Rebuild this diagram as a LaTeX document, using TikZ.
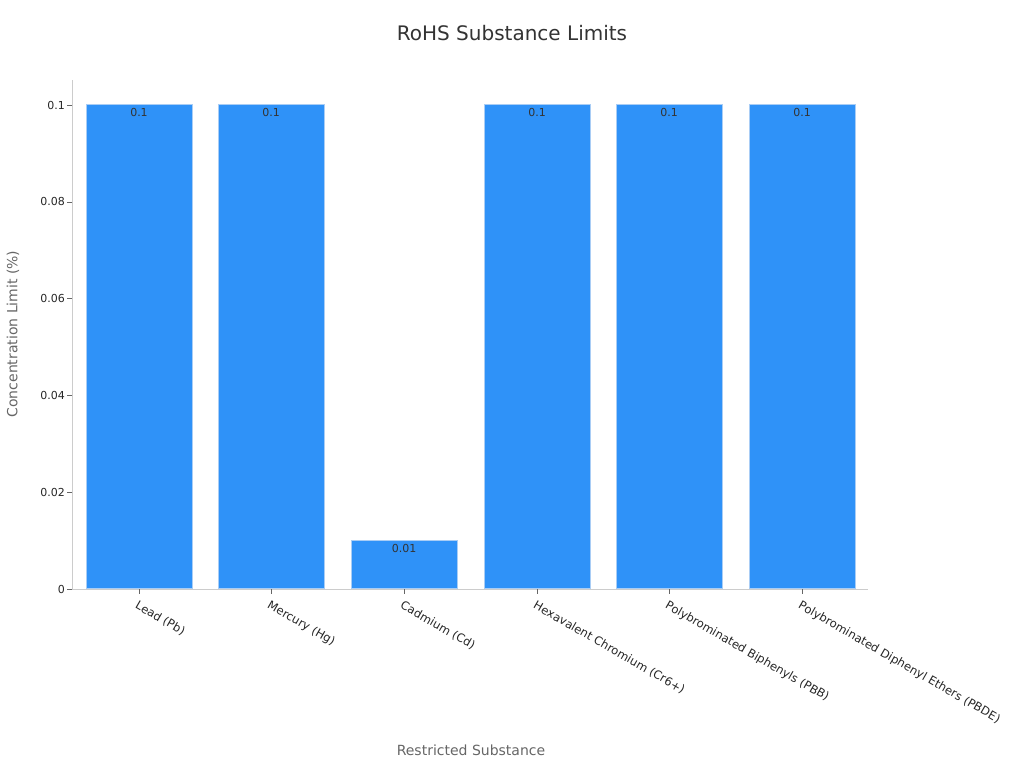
\documentclass[tikz,border=0pt]{standalone}
\usepackage{fontspec}
\setmainfont{DejaVu Sans}
\usepackage{tikz}
\usetikzlibrary{positioning}
\definecolor{barblue}{HTML}{2F92F8}
\definecolor{baredge}{HTML}{A9CDF5}
\definecolor{axisgray}{HTML}{CCCCCC}
\definecolor{textgray}{HTML}{333333}
\definecolor{labelgray}{HTML}{666666}
\tikzset{
  bar/.style={fill=barblue, draw=baredge, line width=0.8pt, anchor=south, inner sep=0pt, minimum width=106pt},
  valuelabel/.style={font=\fontsize{11}{13}\selectfont, text=textgray, anchor=north, inner sep=4pt},
  ticklabel/.style={font=\fontsize{11}{13}\selectfont, text=black!85, anchor=east, inner sep=2pt},
  catlabel/.style={font=\fontsize{11.6}{13}\selectfont, text=black!85, anchor=north west, rotate=-30, inner sep=0pt},
}
\begin{document}
\begin{tikzpicture}[x=1pt, y=-1pt]
  \useasboundingbox (0,0) rectangle (1024,768);

  % axes
  \coordinate (origin) at (72,589);
  \coordinate (ytop) at (72,80);
  \coordinate (xend) at (868,589);
  \draw[axisgray] (ytop) -- (origin) -- (xend);

  % y ticks
  \foreach \py/\l [count=\k] in {589/0,492.2/0.02,395.4/0.04,298.6/0.06,201.8/0.08,105/0.1}
  {
    \coordinate (ytick-\k) at (72,\py);
    \draw[labelgray] (ytick-\k) -- ++(-5,0) node [ticklabel] {\l};
  }

  % bars
  \foreach \x/\h/\l [count=\i] in {139/484/0.1,271/484/0.1,404/48.4/0.01,537/484/0.1,669/484/0.1,802/484/0.1}
  {
    \node [bar, minimum height=\h pt] (bar-\i) at (\x,589) {};
    \node [valuelabel] (value-\i) at (bar-\i.north) {\l};
    \draw[labelgray] (\x,589) -- (\x,594);
  }

  % category labels
  \foreach \x/\l [count=\i] in {139/Lead (Pb),271/Mercury (Hg),404/Cadmium (Cd),537/Hexavalent Chromium (Cr6+),669/Polybrominated Biphenyls (PBB),802/Polybrominated Diphenyl Ethers (PBDE)}
  \node [catlabel] (cat-\i) at (\x,600) {\l};

  % titles
  \node [font=\fontsize{20}{24}\selectfont, text=textgray] (title) at (512,33) {RoHS Substance Limits};
  \node [font=\fontsize{14}{16}\selectfont, text=labelgray] (xlabel) at (471,750) {Restricted Substance};
  \node [font=\fontsize{14}{16}\selectfont, text=labelgray, rotate=90] (ylabel) at (13,334) {Concentration Limit (\%)};
\end{tikzpicture}
\end{document}
